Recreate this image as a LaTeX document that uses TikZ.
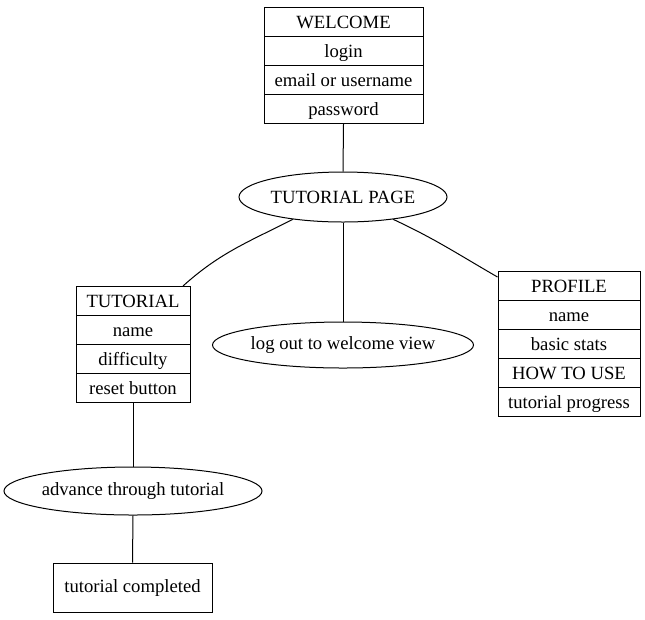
\documentclass[tikz,border=0pt]{standalone}
\usepackage{fontspec}
\setmainfont{Liberation Serif}
\usetikzlibrary{shapes.multipart,shapes.geometric}
\newcommand{\rowtext}[1]{\rule[-5.5pt]{0pt}{21pt}#1}

\begin{document}
\begin{tikzpicture}[
      x=0.75pt, y=-0.75pt,
      font=\fontsize{14pt}{16pt}\selectfont,
      line width=0.75pt,
      record/.style={draw, rectangle split, rectangle split parts=#1, inner xsep=3pt, inner ysep=0pt, anchor=north},
      oval/.style={draw, ellipse, inner sep=0pt},
      box/.style={draw, inner sep=0pt}
    ]
    \useasboundingbox (0,0) rectangle (645,619);
    \node[record=4, minimum width=119.25pt] (welcome) at (343.5,7)
      {\rowtext{WELCOME}\nodepart{two}\rowtext{login}\nodepart{three}\rowtext{email or username}\nodepart{four}\rowtext{password}};
    \node[oval, minimum width=156pt, minimum height=37.5pt] (page) at (343,197) {TUTORIAL PAGE};
    \node[record=4, minimum width=85.5pt] (tut) at (133,286)
      {\rowtext{TUTORIAL}\nodepart{two}\rowtext{name}\nodepart{three}\rowtext{difficulty}\nodepart{four}\rowtext{reset button}};
    \node[oval, minimum width=193.5pt, minimum height=34.5pt] (logout) at (343,345) {log out to welcome view};
    \node[record=5, minimum width=106.5pt] (prof) at (569,271)
      {\rowtext{PROFILE}\nodepart{two}\rowtext{name}\nodepart{three}\rowtext{basic stats}\nodepart{four}\rowtext{HOW TO USE}\nodepart{five}\rowtext{tutorial progress}};
    \node[oval, minimum width=192.75pt, minimum height=36pt] (adv) at (133,491) {advance through tutorial};
    \node[box, minimum width=119.25pt, minimum height=36.75pt] (done) at (132.5,587.5) {tutorial completed};
    \draw (welcome.south) -- (page.north);
    \draw (page.204) to[out=207, in=42] ([xshift=37.5pt]tut.north);
    \draw (page.south) -- (logout.north);
    \draw (page.336) to[out=-25, in=150] ([yshift=-4.5pt]prof.north west);
    \draw (tut.south) -- (adv.north);
    \draw (adv.south) -- (done.north);
  \end{tikzpicture}
\end{document}
